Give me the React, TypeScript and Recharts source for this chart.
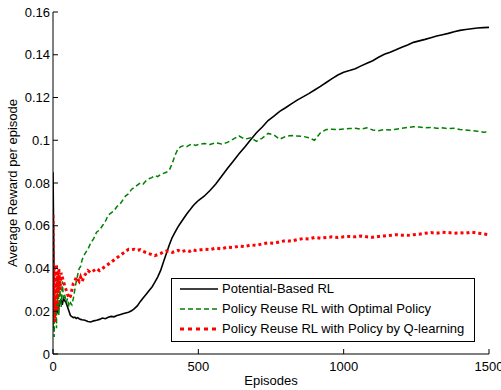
import React from 'react';
import { LineChart, Line, XAxis, YAxis, Legend, Label } from 'recharts';

const episodes = [
  0, 2, 4, 6, 8, 10, 12, 14, 16, 18, 20, 24, 28, 32, 36, 40, 45, 50, 55, 60, 65, 70, 75, 80, 85, 90, 95, 100,
  110, 120, 130, 140, 150, 160, 170, 180, 190, 200, 210, 220, 230, 240, 250, 260, 270, 280, 290, 300,
  310, 320, 330, 340, 350, 360, 370, 380, 390, 400, 410, 420, 430, 440, 450, 460, 470, 480, 490, 500,
  520, 540, 560, 580, 600, 620, 640, 660, 680, 700, 720, 740, 760, 780, 800, 820, 840, 860, 880, 900,
  920, 940, 960, 980, 1000, 1020, 1040, 1060, 1080, 1100, 1120, 1140, 1160, 1180, 1200, 1220, 1240, 1260, 1280, 1300,
  1320, 1340, 1360, 1380, 1400, 1420, 1440, 1460, 1480, 1500,
];

const potentialBased = [
  0.085, 0.06, 0.03, 0.018, 0.022, 0.02, 0.024, 0.021, 0.019, 0.023, 0.022, 0.024, 0.025, 0.023, 0.026, 0.025, 0.024, 0.022, 0.02, 0.018, 0.0175, 0.017, 0.0172, 0.0166, 0.017, 0.0165, 0.0162, 0.016,
  0.0158, 0.0152, 0.015, 0.0155, 0.0158, 0.0162, 0.0168, 0.0165, 0.0172, 0.0176,
  0.0174, 0.018, 0.0184, 0.0188, 0.0192, 0.0195, 0.0202, 0.0212, 0.0225, 0.0245,
  0.0262, 0.0278, 0.0296, 0.0312, 0.0335, 0.036, 0.039, 0.043, 0.047, 0.051,
  0.0545, 0.057, 0.0595, 0.0615, 0.0635, 0.0655, 0.0672, 0.069, 0.0705, 0.0718,
  0.0738, 0.0765, 0.0795, 0.0832, 0.0868, 0.0902, 0.0937, 0.0968, 0.1002, 0.1035,
  0.1062, 0.1092, 0.1113, 0.1135, 0.1152, 0.117, 0.1188, 0.1203, 0.1218, 0.1235,
  0.1252, 0.127, 0.1288, 0.1305, 0.1318, 0.1326, 0.1335, 0.1348, 0.136, 0.1372,
  0.1388, 0.1402, 0.1412, 0.1423, 0.1435, 0.1446, 0.1458, 0.1465, 0.1472, 0.148,
  0.1488, 0.1494, 0.15, 0.1508, 0.1514, 0.1518, 0.1522, 0.1525, 0.1527, 0.1528,
];

const reuseOptimal = [
  0.012, 0.02, 0.008, 0.03, 0.015, 0.025, 0.012, 0.035, 0.02, 0.038, 0.018, 0.03, 0.022, 0.034, 0.026, 0.028, 0.024, 0.026, 0.022, 0.024, 0.023, 0.026, 0.03, 0.034, 0.037, 0.04, 0.041, 0.044,
  0.047, 0.049, 0.052, 0.054, 0.057, 0.058, 0.06, 0.062, 0.065, 0.066,
  0.067, 0.069, 0.07, 0.072, 0.074, 0.075, 0.077, 0.078, 0.079, 0.08,
  0.0795, 0.081, 0.082, 0.0825, 0.0835, 0.083, 0.084, 0.0845, 0.085, 0.086,
  0.089, 0.093, 0.096, 0.097, 0.0975, 0.097, 0.0978, 0.0982, 0.0976, 0.098,
  0.0985, 0.098, 0.0988, 0.0982, 0.099, 0.1005, 0.102, 0.1005, 0.1012, 0.0995,
  0.101, 0.1032, 0.1025, 0.1005, 0.1018, 0.1022, 0.102, 0.1018, 0.1012, 0.1,
  0.1035, 0.105, 0.1052, 0.105, 0.1053, 0.1055, 0.1056, 0.1052, 0.1058, 0.1048,
  0.1045, 0.105, 0.1048, 0.1052, 0.1056, 0.106, 0.1063, 0.1062, 0.1058, 0.106,
  0.1056, 0.1058, 0.1054, 0.1056, 0.105, 0.1048, 0.1045, 0.1042, 0.1038, 0.104,
];

const reuseQLearning = [
  0.065, 0.02, 0.04, 0.015, 0.035, 0.025, 0.042, 0.02, 0.038, 0.028, 0.04, 0.03, 0.038, 0.036, 0.034, 0.032, 0.03, 0.028, 0.026, 0.027, 0.03, 0.033, 0.034, 0.036, 0.035, 0.034, 0.036, 0.034,
  0.037, 0.039, 0.038, 0.039, 0.04, 0.039, 0.04, 0.041, 0.042, 0.043,
  0.044, 0.045, 0.046, 0.047, 0.048, 0.049, 0.0488, 0.049, 0.0485, 0.0488,
  0.048, 0.0475, 0.047, 0.0465, 0.046, 0.0465, 0.047, 0.0478, 0.0482, 0.048,
  0.0475, 0.048, 0.0485, 0.0478, 0.0482, 0.0485, 0.048, 0.0488, 0.0484, 0.0486,
  0.049, 0.0488, 0.0495, 0.0492, 0.05, 0.0498, 0.0505, 0.0502, 0.051, 0.0508,
  0.0515, 0.052, 0.0518, 0.0525, 0.053, 0.0528, 0.0535, 0.054, 0.0538, 0.0545,
  0.0542, 0.0545, 0.0548, 0.0545, 0.0548, 0.055, 0.0548, 0.0552, 0.0548, 0.0546,
  0.055, 0.0552, 0.0555, 0.0558, 0.0556, 0.0555, 0.0558, 0.056, 0.0565, 0.0568,
  0.0565, 0.057, 0.0568, 0.0565, 0.0567, 0.0565, 0.057, 0.0566, 0.0562, 0.0558,
];

const xTicks = [0, 500, 1000, 1500];
const yTicks = [0, 0.02, 0.04, 0.06, 0.08, 0.1, 0.12, 0.14, 0.16];
const seriesNames = [
  'Potential-Based RL',
  'Policy Reuse RL with Optimal Policy',
  'Policy Reuse RL with Policy by Q-learning',
];
const xLabel = 'Episodes';
const yLabel = 'Average Reward per episode';

const FONT = "'Liberation Sans', Arial, Helvetica, sans-serif";

const data = episodes.map((ep, i) => ({
  ep,
  pb: potentialBased[i],
  opt: reuseOptimal[i],
  ql: reuseQLearning[i],
}));

const legendStyles = [
  { stroke: '#000000', width: 1.5, dash: undefined as string | undefined },
  { stroke: '#008000', width: 1.5, dash: '5 3' },
  { stroke: '#ff0000', width: 3, dash: '4 4' },
];

const renderLegend = () => (
  <div
    style={{
      position: 'relative',
      width: 304,
      height: 64,
      boxSizing: 'border-box',
      border: '1px solid #000',
      background: '#fff',
      fontFamily: FONT,
      fontSize: 13,
      color: '#000',
    }}
  >
    {seriesNames.map((name, i) => (
      <div
        key={name}
        style={{ position: 'absolute', left: 0, top: i * 20, height: 20, width: 302, whiteSpace: 'nowrap' }}
      >
        <svg width={50} height={20} style={{ position: 'absolute', left: 0, top: 0 }}>
          <line
            x1={8}
            x2={46}
            y1={10}
            y2={10}
            stroke={legendStyles[i].stroke}
            strokeWidth={legendStyles[i].width}
            strokeDasharray={legendStyles[i].dash}
          />
        </svg>
        <span style={{ position: 'absolute', left: 50, top: 0, lineHeight: '20px' }}>{name}</span>
      </div>
    ))}
  </div>
);

const tickStyle = { fill: '#000', fontSize: 13, fontFamily: FONT };

export default function App() {
  return (
    <div style={{ position: 'absolute', left: 0, top: 0, width: 501, height: 390, background: '#fff' }}>
      <LineChart width={501} height={390} data={data} margin={{ top: 12, right: 12, left: 0, bottom: 0 }}>
        <XAxis
          dataKey="ep"
          type="number"
          domain={[0, 1500]}
          ticks={xTicks}
          interval={0}
          allowDataOverflow
          height={36}
          tickSize={-5}
          tickMargin={13}
          stroke="#000"
          tick={tickStyle}
        >
          <Label value={xLabel} position="insideBottom" offset={5} style={{ fill: '#000', fontSize: 13, fontFamily: FONT }} />
        </XAxis>
        <XAxis
          xAxisId="top"
          orientation="top"
          type="number"
          domain={[0, 1500]}
          ticks={xTicks}
          interval={0}
          allowDataOverflow
          height={0}
          mirror
          tick={false}
          tickSize={5}
          stroke="#000"
        />
        <YAxis
          type="number"
          domain={[0, 0.16]}
          ticks={yTicks}
          interval={0}
          allowDataOverflow
          width={53}
          tickSize={-5}
          tickMargin={8}
          stroke="#000"
          tick={tickStyle}
        >
          <Label
            value={yLabel}
            angle={-90}
            position="insideLeft"
            offset={12}
            style={{ fill: '#000', fontSize: 13, fontFamily: FONT, textAnchor: 'middle' }}
          />
        </YAxis>
        <YAxis
          yAxisId="right"
          orientation="right"
          type="number"
          domain={[0, 0.16]}
          ticks={yTicks}
          interval={0}
          allowDataOverflow
          width={0}
          mirror
          tick={false}
          tickSize={5}
          stroke="#000"
        />
        <Legend
          layout="vertical"
          align="center"
          verticalAlign="middle"
          content={renderLegend}
          wrapperStyle={{ left: 171, top: 278, width: 304, height: 64 }}
        />
        <Line dataKey="pb" type="linear" stroke="#000000" strokeWidth={1.6} dot={false} isAnimationActive={false} />
        <Line dataKey="opt" type="linear" stroke="#008000" strokeWidth={1.5} strokeDasharray="5 3" dot={false} isAnimationActive={false} />
        <Line dataKey="ql" type="linear" stroke="#ff0000" strokeWidth={3} strokeDasharray="3 3" dot={false} isAnimationActive={false} />
      </LineChart>
    </div>
  );
}
